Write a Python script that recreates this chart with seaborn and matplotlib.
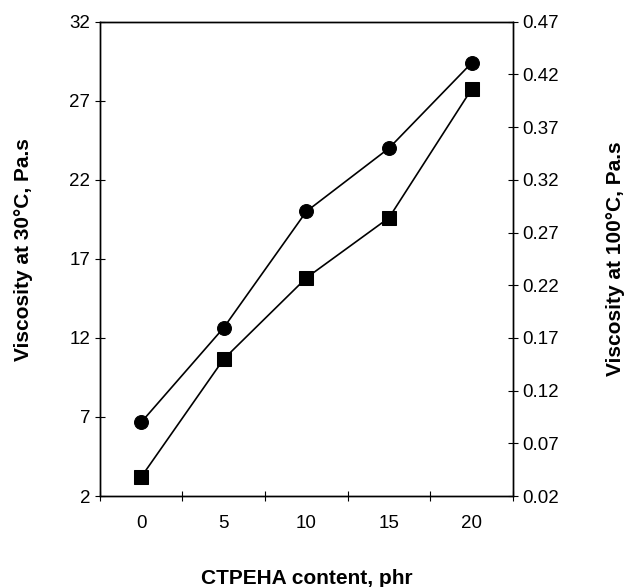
# Viscosity vs CTPEHA content, two y axes
import numpy as np
import pandas as pd
import matplotlib
matplotlib.use("Agg")
import matplotlib.pyplot as plt
import seaborn as sns

# data
content = [0, 5, 10, 15, 20]
visc_30 = [6.66, 12.65, 20.0, 24.0, 29.39]       # left axis, Pa.s
visc_100 = [0.038, 0.150, 0.227, 0.284, 0.406]   # right axis, Pa.s

left_ticks = [2, 7, 12, 17, 22, 27, 32]
right_ticks = [0.02, 0.07, 0.12, 0.17, 0.22, 0.27, 0.32, 0.37, 0.42, 0.47]

sns.set_style("ticks")
plt.rcParams['font.family'] = ['Liberation Sans', 'DejaVu Sans']
plt.rcParams['text.color'] = 'black'
plt.rcParams['axes.labelcolor'] = 'black'
plt.rcParams['xtick.color'] = 'black'
plt.rcParams['ytick.color'] = 'black'

fig = plt.figure(figsize=(6.24, 5.87), dpi=100)
ax = fig.add_axes([0.160, 0.155, 0.662, 0.808])
ax2 = ax.twinx()

df30 = pd.DataFrame({"x": content, "y": visc_30})
df100 = pd.DataFrame({"x": content, "y": visc_100})

sns.lineplot(data=df30, x="x", y="y", ax=ax, color="black", lw=1.2,
             marker="o", markersize=10, markeredgecolor="black")
sns.lineplot(data=df100, x="x", y="y", ax=ax2, color="black", lw=1.2,
             marker="s", markersize=10, markeredgecolor="black")

ax.set_xlim(-2.5, 22.5)
ax.set_ylim(2, 32)
ax2.set_ylim(0.02, 0.47)

ax.set_xticks(content)
ax.set_xticklabels([str(c) for c in content])
ax.set_xticks(np.arange(-2.5, 23, 5), minor=True)
ax.tick_params(axis="x", which="major", length=0, labelsize=13.5, pad=14)
ax.tick_params(axis="x", which="minor", direction="inout", length=7.5, width=0.8)

ax.set_yticks(left_ticks)
ax.tick_params(axis="y", direction="inout", length=7.5, width=0.8, labelsize=13.5, pad=3)
ax2.set_yticks(right_ticks)
ax2.set_yticklabels([f"{t:.2f}" for t in right_ticks])
ax2.tick_params(axis="y", direction="inout", length=7.5, width=0.8, labelsize=13.5, pad=3)

for a in (ax, ax2):
    for s in a.spines.values():
        s.set_linewidth(1.0)
        s.set_color("black")

ax.set_xlabel("CTPEHA content, phr", fontsize=15, fontweight="bold", labelpad=26)
ax.set_ylabel("Viscosity at 30°C, Pa.s", fontsize=15, fontweight="bold")
ax.yaxis.set_label_coords(-0.162, 0.52)
ax2.set_ylabel("Viscosity at 100°C, Pa.s", fontsize=15, fontweight="bold",
               labelpad=34, rotation=90)

fig.savefig("out.png", dpi=100)
